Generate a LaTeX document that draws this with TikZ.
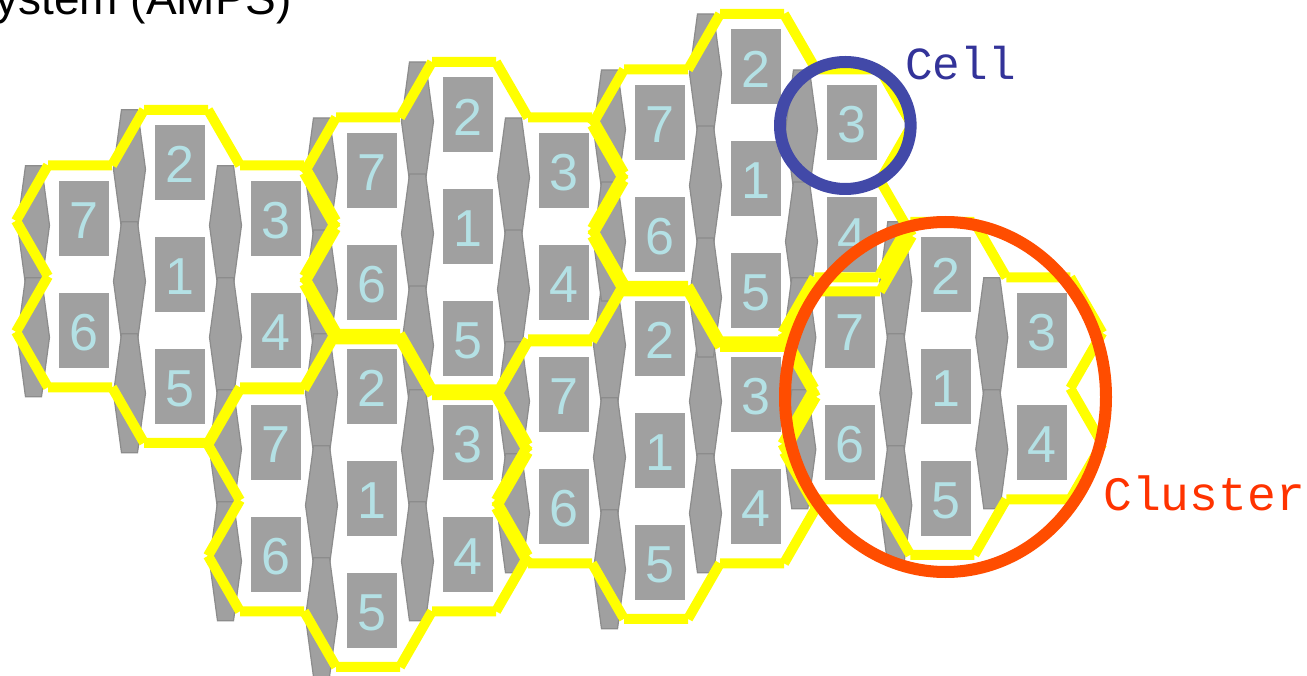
\documentclass[tikz,border=0pt]{standalone}
\usepackage{fontspec}
\setmainfont{Liberation Sans}
\newfontfamily\labelmono{Liberation Mono}
\definecolor{cellgrey}{RGB}{160,160,160}
\definecolor{spinedge}{RGB}{140,140,140}
\definecolor{digitblue}{RGB}{180,225,229}
\definecolor{hexyellow}{RGB}{255,255,0}
\definecolor{cellring}{RGB}{66,73,168}
\definecolor{celltext}{RGB}{51,51,153}
\definecolor{clustring}{RGB}{255,77,0}
\definecolor{clusttext}{RGB}{255,51,0}
\begin{document}
\begin{tikzpicture}[x=1pt,y=-1pt,
  spindlebox/.style={fill=cellgrey,draw=spinedge,line width=1.2pt,line join=miter},
  cellrect/.style={fill=cellgrey,draw=none,minimum width=50pt,minimum height=74.5pt,inner sep=0pt,outer sep=0pt},
  digit/.style={text=digitblue,font=\fontsize{52}{52}\selectfont,inner sep=0pt},
  hexline/.style={draw=hexyellow,line width=10pt,line cap=butt},
  ringline/.style={line width=12pt},
  monolabel/.style={anchor=base west,inner sep=0pt}
]
\clip (0,0) rectangle (1307,676);
\fill[white] (0,0) rectangle (1307,676);
\def\clusters{A/176/276.3, B/464/228.5, C/368/500.3, D/656/452.3, E/752/180.5, F/942.3/388.3}
\def\cells{2/0/-112, 1/0/0, 5/0/112, 7/-96/-56, 6/-96/56, 3/96/-56, 4/96/56}
% title (partly outside the frame, as in the original slide)
\node[font=\fontsize{46}{46}\selectfont,anchor=base east,inner sep=0pt] (title) at (292,15) {System (AMPS)};
% antenna spindles
\foreach \k/\X/\Y in \clusters {
  \foreach \n/\dx/\dy in \cells {
    \pgfmathsetmacro\cx{\X+\dx-46.5}
    \pgfmathsetmacro\cy{\Y+\dy}
    \draw[spindlebox] (\cx-8,\cy-54.5) -- (\cx+8,\cy-54.5) -- (\cx+16,\cy+5) -- (\cx+8,\cy+64.5) -- (\cx-8,\cy+64.5) -- (\cx-16,\cy+5) -- cycle;
  }
}
% cell boxes with numbers
\foreach \k/\X/\Y in \clusters {
  \foreach \n/\dx/\dy in \cells {
    \pgfmathsetmacro\cx{\X+\dx+4}
    \pgfmathsetmacro\cy{\Y+\dy-2}
    \node[cellrect] (r\k\n) at (\cx,\cy) {};
    \node[digit] (d\k\n) at (\cx,\cy+2.5) {\n};
  }
}
% cluster outlines
\foreach \k/\X/\Y in \clusters {
  \begin{scope}[shift={(\X,\Y)}]
    \draw[hexline]
      (-32,-166.5) -- (32,-166.5)
      (32,-166.5) -- (64,-111)
      (64,-111) -- (128,-111)
      (128,-111) -- (160,-55.5)
      (160,-55.5) -- (128,0)
      (128,0) -- (160,55.5)
      (160,55.5) -- (128,111)
      (128,111) -- (64,111)
      (64,111) -- (32,166.5)
      (32,166.5) -- (-32,166.5)
      (-32,166.5) -- (-64,111)
      (-64,111) -- (-128,111)
      (-128,111) -- (-160,55.5)
      (-160,55.5) -- (-128,0)
      (-128,0) -- (-160,-55.5)
      (-160,-55.5) -- (-128,-111)
      (-128,-111) -- (-64,-111)
      (-64,-111) -- (-32,-166.5);
  \end{scope}
}
% highlight rings
\coordinate (cellc) at (845.3,125.5);
\coordinate (clustc) at (945.5,397);
\draw[ringline,draw=cellring] (cellc) ellipse [x radius=65.3pt, y radius=63.5pt];
\draw[ringline,draw=clustring] (clustc) ellipse [x radius=160.5pt, y radius=175pt];
\node[monolabel,text=celltext,font=\labelmono\fontsize{46}{46}\selectfont] (celllabel) at (905,80) {Cell};
\node[monolabel,text=clusttext,font=\labelmono\fontsize{48}{48}\selectfont] (clusterlabel) at (1103,510) {Cluster};
\end{tikzpicture}
\end{document}
